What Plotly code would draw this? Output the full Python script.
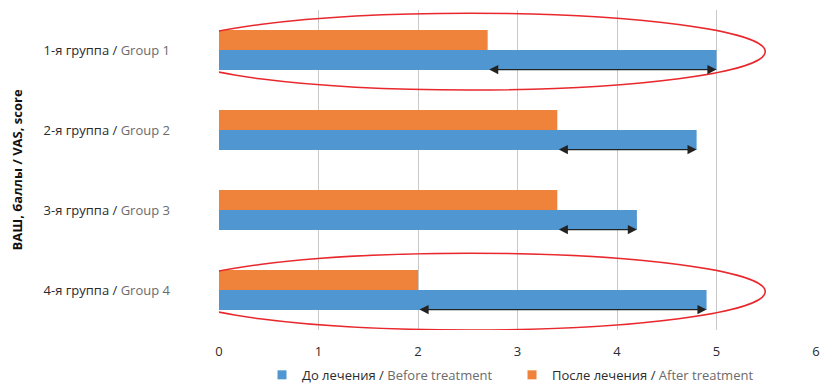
import plotly.graph_objects as go

# Data
groups_ru = ["1-я группа", "2-я группа", "3-я группа", "4-я группа"]
groups_en = ["Group 1", "Group 2", "Group 3", "Group 4"]
before = [5.0, 4.8, 4.2, 4.9]
after = [2.7, 3.4, 3.4, 2.0]
highlighted = [0, 3]  # groups circled in red
x_ticks = [0, 1, 2, 3, 4, 5, 6]
legend_ru = ["До лечения", "После лечения"]
legend_en = ["Before treatment", "After treatment"]

BLUE = "#5096d1"
ORANGE = "#f0833b"
DARK = "#2b2b2b"
GREY = "#6b6b6b"
FONT = "Open Sans"

cats = [f"g{i+1}" for i in range(len(groups_ru))]
ticktext = [f'{r} / <span style="color:{GREY}">{e}</span>' for r, e in zip(groups_ru, groups_en)]
order = cats[::-1]  # group 1 on top

fig = go.Figure()
for vals, col in ((before, BLUE), (after, ORANGE)):
    fig.add_trace(go.Bar(
        y=cats, x=vals, orientation="h",
        marker=dict(color=col, line=dict(width=0)), showlegend=False,
    ))
# legend entries (small square symbols)
for ru, en, col in zip(legend_ru, legend_en, (BLUE, ORANGE)):
    fig.add_trace(go.Scatter(
        x=[None], y=[None], mode="markers",
        marker=dict(symbol="square", size=9, color=col),
        name=f'{ru} / <span style="color:{GREY}">{en}</span>',
    ))

n = len(cats)
annotations = []
shapes = []
for i in range(n):
    pos = n - 1 - i
    annotations.append(dict(
        x=before[i], y=pos - 0.245, xref="x", yref="y",
        ax=after[i], ay=pos - 0.245, axref="x", ayref="y",
        text="", showarrow=True, arrowhead=2, startarrowhead=2,
        arrowside="end+start", arrowsize=1.4, startarrowsize=1.4,
        arrowwidth=1.3, arrowcolor="#222222", standoff=0, startstandoff=0,
    ))
    if i in highlighted:
        shapes.append(dict(
            type="circle", xref="x", yref="y",
            x0=-0.46, x1=5.49, y0=pos - 0.5, y1=pos + 0.46,
            line=dict(color="#e8282d", width=1.5), layer="above",
        ))

fig.update_layout(
    width=835, height=387,
    margin=dict(l=211, r=27, t=2, b=65),
    paper_bgcolor="white", plot_bgcolor="white",
    barmode="group", bargap=0.5, bargroupgap=0,
    font=dict(family=FONT, size=13, color=DARK),
    showlegend=True,
    legend=dict(orientation="h", xref="container", yref="container",
                x=0.6036, xanchor="center", y=0.052, yanchor="middle",
                font=dict(size=13, color=DARK), traceorder="normal",
                entrywidth=205, entrywidthmode="pixels"),
    annotations=annotations,
    shapes=shapes,
)
fig.update_xaxes(
    range=[0, 6], tickvals=x_ticks, showgrid=True, gridcolor="#c9c9c9", gridwidth=1,
    zeroline=False, showline=False, ticks="", ticklabelstandoff=12, automargin=False,
    tickfont=dict(size=13, color=DARK),
)
fig.update_yaxes(
    categoryorder="array", categoryarray=order, range=[-0.5, n - 0.5],
    tickvals=cats, ticktext=ticktext, automargin=False,
    showgrid=False, zeroline=False, showline=False, ticks="",
    ticklabelstandoff=48, tickfont=dict(size=13, color=DARK),
    title=dict(text="<b>ВАШ, баллы / VAS, score</b>", font=dict(size=13, color="#111111"), standoff=22),
)

fig.write_html("out.html")
